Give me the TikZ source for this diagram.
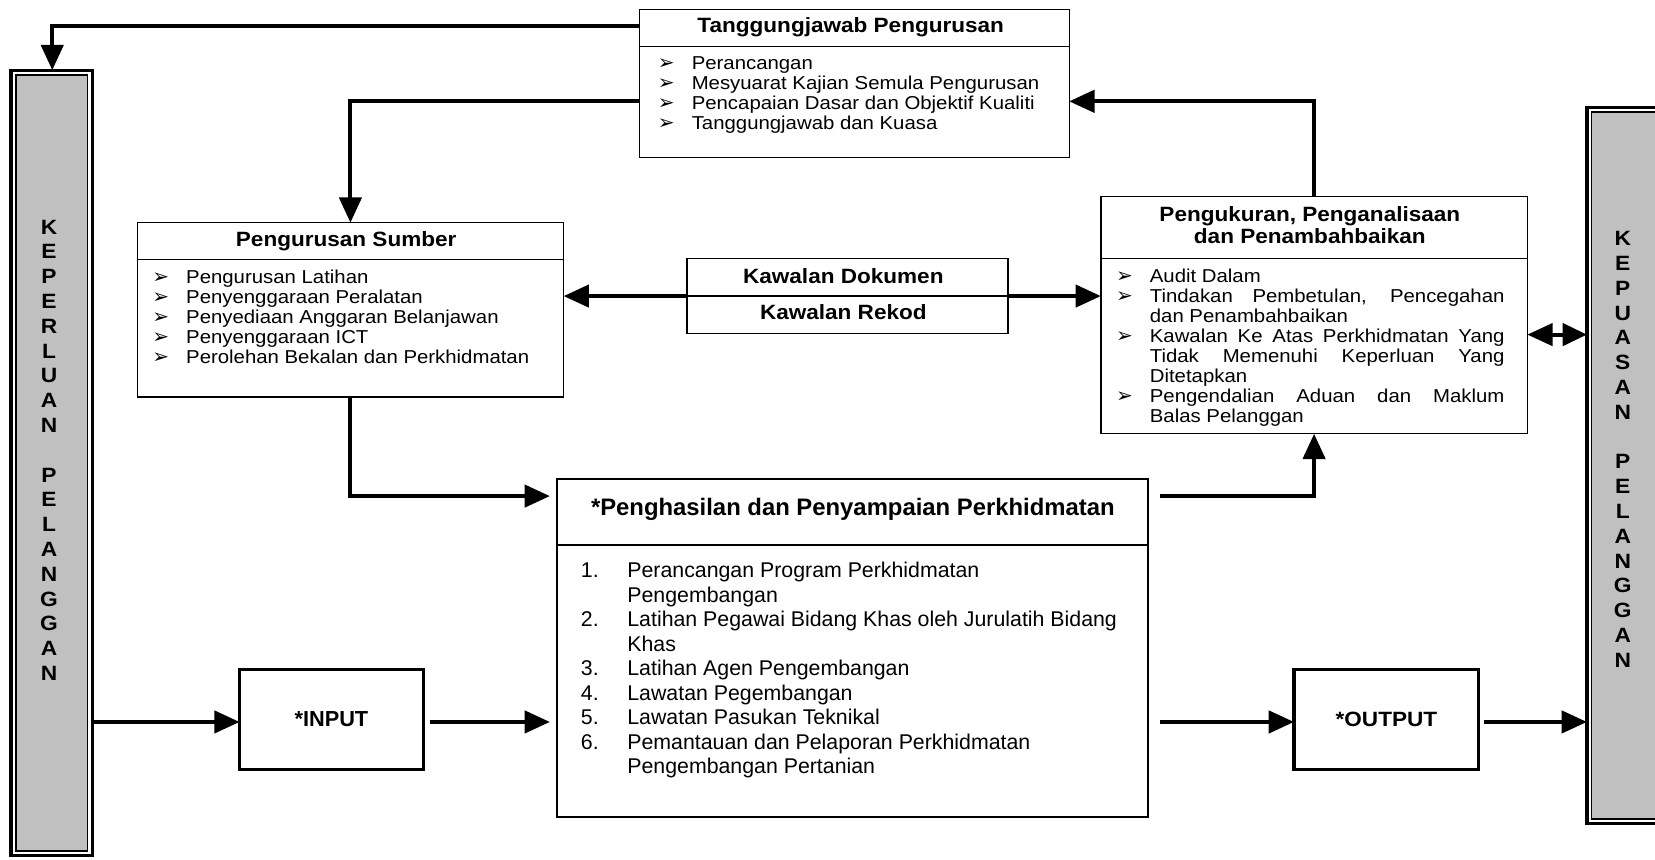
\documentclass[tikz,border=0pt]{standalone}
\usepackage{fontspec}
\setmainfont{Liberation Sans}
\newfontfamily\dejavu{DejaVu Sans}
\newfontfamily\widefont[FakeStretch=1.09]{Liberation Sans}
\newfontfamily\barfont[FakeStretch=1.1]{Liberation Sans}
\usetikzlibrary{arrows.meta}
\definecolor{bargray}{RGB}{192,192,192}
\newcommand{\bul}{\makebox[16pt][l]{\raisebox{0pt}{\dejavu\fontsize{9.5}{9.5}\selectfont ➢}}}
\newcommand{\ind}{\hspace*{16pt}}
\newcommand{\jl}[1]{\makebox[168pt][s]{#1}}
\newcommand{\nm}[1]{\makebox[22pt][l]{#1}}
\begin{document}
\begin{tikzpicture}[x=0.5pt,y=-0.5pt,
  box/.style={draw=black, line width=0.6pt, inner sep=0pt, outer sep=0pt},
  thickbox/.style={draw=black, line width=1.5pt, inner sep=0pt, outer sep=0pt},
  barframe/.style={draw=black, line width=1.5pt, inner sep=0pt, outer sep=0pt},
  barinner/.style={draw=black, fill=bargray, line width=0.75pt, inner sep=0pt, outer sep=0pt},
  divider/.style={draw=black, line width=0.6pt},
  conn/.style={line width=1.9pt, -{Triangle[length=12pt,width=10.5pt]}},
  bothconn/.style={line width=1.9pt, {Triangle[length=12pt,width=10.5pt]}-{Triangle[length=11.5pt,width=10.5pt]}},
  bodytext/.style={inner sep=0pt, anchor=north west, align=left, font=\widefont\fontsize{8.85}{9.5}\selectfont},
  headtext/.style={inner sep=0pt, anchor=base, font=\widefont\bfseries\fontsize{9.8}{10.5}\selectfont},
  bartext/.style={inner sep=0pt, anchor=north, align=center, font=\barfont\bfseries\fontsize{9.8}{11.75}\selectfont},
]
\useasboundingbox (0,0) rectangle (1568,814);
\fill[white] (0,0) rectangle (1568,814);

% ---- customer bars ----
\node[barinner, minimum width=34pt, minimum height=367.5pt] (barLin) at (49,438.5) {};
\node[barframe, minimum width=38.5pt, minimum height=372pt] (barL) at (49,438.5) {};
\node[bartext] (barLT) at (46.5,205.4) {\rule{0pt}{8pt}K\\E\\P\\E\\R\\L\\U\\A\\N\\[11.75pt]P\\E\\L\\A\\N\\G\\G\\A\\N};

\begin{scope}
\clip (0,0) rectangle (1568,814);
\node[barinner, minimum width=34pt, minimum height=335pt] (barRin) at (1542,441) {};
\node[barframe, minimum width=38.5pt, minimum height=339.5pt] (barR) at (1542,441) {};
\node[bartext] (barRT) at (1537.5,216.4) {\rule{0pt}{8pt}K\\E\\P\\U\\A\\S\\A\\N\\[11.75pt]P\\E\\L\\A\\N\\G\\G\\A\\N};
\end{scope}

% ---- Tanggungjawab Pengurusan ----
\node[box, minimum width=203.5pt, minimum height=70pt] (tang) at (809.5,79) {};
\draw[divider] (tang.west |- 0,44) -- (tang.east |- 0,44);
\node[headtext] (tangT) at (806,30.4) {Tanggungjawab Pengurusan};
\node[bodytext] (tangL) at (623,51) {\rule{0pt}{7pt}\bul Perancangan\\
\bul Mesyuarat Kajian Semula Pengurusan\\
\bul Pencapaian Dasar dan Objektif Kualiti\\
\bul Tanggungjawab dan Kuasa};

% ---- Pengurusan Sumber ----
\node[box, minimum width=202pt, minimum height=82.5pt] (ps) at (332,293.5) {};
\draw[divider] (ps.west |- 0,246) -- (ps.east |- 0,246);
\node[headtext] (psT) at (328,233.7) {Pengurusan Sumber};
\node[bodytext] (psL) at (144,254) {\rule{0pt}{7pt}\bul Pengurusan Latihan\\
\bul Penyenggaraan Peralatan\\
\bul Penyediaan Anggaran Belanjawan\\
\bul Penyenggaraan ICT\\
\bul Perolehan Bekalan dan Perkhidmatan};

% ---- Kawalan ----
\node[box, minimum width=152pt, minimum height=35.5pt] (kaw) at (803,280.5) {};
\draw[divider] (kaw.west) -- (kaw.east);
\node[headtext] (kawT1) at (799,268.2) {Kawalan Dokumen};
\node[headtext] (kawT2) at (799,302.7) {Kawalan Rekod};

% ---- Pengukuran ----
\node[box, minimum width=202pt, minimum height=112.5pt] (ppp) at (1245,298.5) {};
\draw[divider] (ppp.west |- 0,245) -- (ppp.east |- 0,245);
\node[headtext] (pppT1) at (1241,209.7) {Pengukuran, Penganalisaan};
\node[headtext] (pppT2) at (1241,230.7) {dan Penambahbaikan};
\node[bodytext] (pppL) at (1057,253) {\rule{0pt}{7pt}\bul Audit Dalam\\
\bul \jl{Tindakan Pembetulan, Pencegahan}\\
\ind dan Penambahbaikan\\
\bul \jl{Kawalan Ke Atas Perkhidmatan Yang}\\
\ind \jl{Tidak Memenuhi Keperluan Yang}\\
\ind Ditetapkan\\
\bul \jl{Pengendalian Aduan dan Maklum}\\
\ind Balas Pelanggan};

% ---- Penghasilan ----
\node[draw=black, line width=1pt, inner sep=0pt, outer sep=0pt, minimum width=280pt, minimum height=160pt] (peng) at (808,614) {};
\draw[draw=black, line width=1pt] (peng.west |- 0,516) -- (peng.east |- 0,516);
\node[inner sep=0pt, anchor=base, font=\bfseries\fontsize{11.3}{13}\selectfont] (pengT) at (808,488) {*Penghasilan dan Penyampaian Perkhidmatan};
\node[inner sep=0pt, anchor=north west, align=left, font=\fontsize{10.1}{11.6}\selectfont] (pengL) at (550,529) {\rule{0pt}{9pt}\nm{1.}Perancangan Program Perkhidmatan\\
\nm{}Pengembangan\\
\nm{2.}Latihan Pegawai Bidang Khas oleh Jurulatih Bidang\\
\nm{}Khas\\
\nm{3.}Latihan Agen Pengembangan\\
\nm{4.}Lawatan Pegembangan\\
\nm{5.}Lawatan Pasukan Teknikal\\
\nm{6.}Pemantauan dan Pelaporan Perkhidmatan\\
\nm{}Pengembangan Pertanian};

% ---- INPUT / OUTPUT ----
\node[thickbox, minimum width=87pt, minimum height=47.5pt, font=\bfseries\fontsize{10.3}{12}\selectfont] (input) at (314,681.5) {*INPUT};
\node[thickbox, minimum width=87.5pt, minimum height=47.5pt, font=\widefont\bfseries\fontsize{9.8}{12}\selectfont] (output) at (1313.5,681.5) {*OUTPUT};

% ---- connector points ----
\coordinate (jT1) at (49.5,25);
\coordinate (jT2) at (332,96);
\coordinate (pA) at (521,470);
\coordinate (qA) at (1099,470);
\coordinate (iB) at (407,684);
\coordinate (pB) at (521,684);
\coordinate (qB) at (1099,684);
\coordinate (oB) at (1406,684);
\coordinate (dY) at (0,317);

% ---- connectors ----
\draw[conn] (tang.west |- jT1) -- (jT1) -- (barL.north -| jT1);
\draw[conn] (tang.west |- jT2) -- (jT2) -- (ps.north);
\draw[conn] (kaw.west) -- (ps.east |- kaw.west);
\draw[conn] (kaw.east) -- (ppp.west |- kaw.east);
\draw[conn] (ppp.north) -- (ppp.north |- jT2) -- (tang.east |- jT2);
\draw[bothconn] (ppp.east |- dY) -- (barR.west |- dY);
\draw[conn] (ps.south) -- (ps.south |- pA) -- (pA);
\draw[conn] (qA) -- (ppp.south |- qA) -- (ppp.south);
\draw[conn] (barL.east |- iB) -- (input.west |- iB);
\draw[conn] (iB) -- (pB);
\draw[conn] (qB) -- (output.west |- qB);
\draw[conn] (oB) -- (barR.west |- oB);
\end{tikzpicture}
\end{document}
